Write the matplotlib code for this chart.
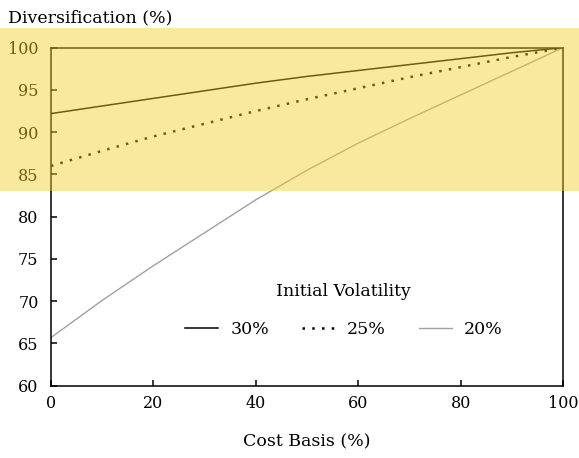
import matplotlib
matplotlib.use('Agg')
import matplotlib.pyplot as plt
from matplotlib.patches import Rectangle
from matplotlib.transforms import blended_transform_factory

plt.rcParams.update({
    'font.family': 'serif',
    'font.serif': ['DejaVu Serif', 'Liberation Serif'],
    'font.size': 12.5,
    'xtick.labelsize': 11.5,
    'ytick.labelsize': 11.5,
    'axes.linewidth': 1.1,
    'xtick.direction': 'in',
    'ytick.direction': 'in',
    'xtick.major.size': 4,
    'ytick.major.size': 4,
    'xtick.major.width': 1.1,
    'ytick.major.width': 1.1,
})

# data
cost_basis = [0, 10, 20, 30, 40, 50, 60, 70, 80, 90, 100]
vol_30 = [92.2, 93.1, 94.0, 94.9, 95.8, 96.6, 97.3, 98.0, 98.7, 99.4, 100.0]
vol_25 = [86.0, 87.8, 89.5, 91.0, 92.5, 93.9, 95.2, 96.5, 97.7, 98.9, 100.0]
vol_20 = [65.7, 70.1, 74.2, 78.1, 82.0, 85.5, 88.7, 91.6, 94.4, 97.2, 100.0]
series_labels = ['30%', '25%', '20%']
band_low, band_high = 83.0, 102.3

fig = plt.figure(figsize=(5.79, 4.58), dpi=100)
ax = fig.add_axes([0.0881, 0.1579, 0.8843, 0.738])

ax.plot(cost_basis, vol_30, color='black', lw=1.1, label=series_labels[0])
ax.plot(cost_basis, vol_25, color='black', lw=1.8, linestyle=(0, (1.0, 2.9)),
        label=series_labels[1])
ax.plot(cost_basis, vol_20, color='#a0a0a0', lw=1.0, label=series_labels[2])

ax.set_xlim(0, 100)
ax.set_ylim(60, 100)
ax.set_xticks(range(0, 101, 20))
ax.set_yticks(range(60, 101, 5))
ax.tick_params(axis='x', pad=7)
ax.tick_params(axis='y', pad=9)

ax.set_xlabel('Cost Basis (%)', labelpad=15)
fig.text(0.014, 0.962, 'Diversification (%)', ha='left', va='center')

leg = ax.legend(loc='center', bbox_to_anchor=(0.572, 0.222), ncol=3, frameon=False,
                title='Initial Volatility', handlelength=1.9, columnspacing=1.9,
                handletextpad=0.7)
leg._legend_box.sep = 15

# highlight band across full width, drawn over everything
trans = blended_transform_factory(fig.transFigure, ax.transData)
band = Rectangle((0, band_low), 1, band_high - band_low, transform=trans,
                 facecolor=(0.94, 0.81, 0.16), alpha=0.45, edgecolor='none',
                 zorder=10, clip_on=False)
fig.patches.append(band)

fig.savefig('out.png', dpi=100)
